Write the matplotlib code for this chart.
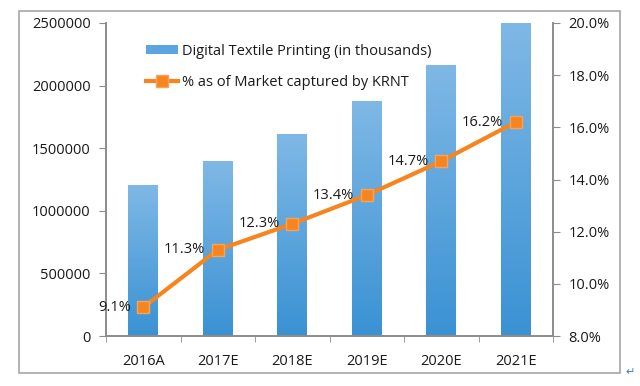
import matplotlib
matplotlib.use("Agg")
import matplotlib.pyplot as plt
import numpy as np
from matplotlib.colors import LinearSegmentedColormap
from matplotlib.lines import Line2D
from matplotlib.patches import Patch, Rectangle

plt.rcParams["font.family"] = ["Open Sans", "DejaVu Sans"]

years = ["2016A", "2017E", "2018E", "2019E", "2020E", "2021E"]
printing_thousands = [1200000, 1390000, 1610000, 1870000, 2160000, 2500000]
market_share_pct = [9.1, 11.3, 12.3, 13.4, 14.7, 16.2]

BAR_TOP = "#7fb8e6"
BAR_BOTTOM = "#3a92d3"
LINE_COLOR = "#f7851f"
SPINE_COLOR = "#8c8c8c"
TEXT_COLOR = "#1a1a1a"

fig = plt.figure(figsize=(6.4, 3.86), dpi=100)
fig.patches.append(Rectangle((19 / 640, 1 - 373 / 386), 601 / 640, 362 / 386,
                             transform=fig.transFigure, fill=False,
                             edgecolor="#a6a6a6", linewidth=1.2))
fig.text(630 / 640, 1 - 372 / 386, "\u21b5", color="#3a7fd5", fontsize=8,
         ha="center", va="center", family="DejaVu Sans")

ax = fig.add_axes([106 / 640, 1 - 336 / 386, 447 / 640, 313 / 386])
ax2 = ax.twinx()

x = np.arange(len(years))
bars = ax.bar(x, printing_thousands, width=0.4, color="none", edgecolor="none", zorder=2)

# vertical gradient inside each bar, light at top, darker at bottom
cmap = LinearSegmentedColormap.from_list("bar_grad", [BAR_BOTTOM, BAR_TOP])
grad = np.linspace(0, 1, 256).reshape(-1, 1)
for bar in bars:
    x0, y0 = bar.get_x(), bar.get_y()
    w, h = bar.get_width(), bar.get_height()
    ax.imshow(grad, extent=(x0, x0 + w, y0, y0 + h), origin="lower",
              cmap=cmap, aspect="auto", zorder=2, vmin=0, vmax=1)

ax.set_xlim(-0.5, len(years) - 0.5)
ax.set_ylim(0, 2500000)
ax.set_yticks(np.arange(0, 2500001, 500000))
ax.set_yticklabels([f"{int(v)}" for v in np.arange(0, 2500001, 500000)])
ax.set_xticks(x)
ax.set_xticklabels(years)
ax.set_xticks(np.arange(-0.5, len(years)), minor=True)
ax.tick_params(axis="x", which="major", length=0, pad=13, labelsize=10.5, colors=TEXT_COLOR)
ax.tick_params(axis="x", which="minor", length=4, color=SPINE_COLOR, direction="out")
ax.tick_params(axis="y", length=5, color=SPINE_COLOR, labelsize=10.5, labelcolor=TEXT_COLOR, pad=6)

ax2.plot(x, market_share_pct, color=LINE_COLOR, linewidth=3, marker="s",
         markersize=9, markerfacecolor=LINE_COLOR, markeredgecolor="#f9a35a",
         zorder=3)
for xi, v in zip(x, market_share_pct):
    ax2.annotate(f"{v:.1f}%", (xi, v), xytext=(-9, 0), textcoords="offset points",
                 ha="right", va="center", fontsize=10.5, color=TEXT_COLOR)
ax2.set_ylim(8, 20)
ax2.set_yticks(np.arange(8, 20.1, 2))
ax2.set_yticklabels([f"{v:.1f}%" for v in np.arange(8, 20.1, 2)])
ax2.tick_params(axis="y", length=5, color=SPINE_COLOR, labelsize=10.5, labelcolor=TEXT_COLOR, pad=6)

for a in (ax, ax2):
    a.spines["top"].set_visible(False)
    for side in ("left", "right", "bottom"):
        a.spines[side].set_color(SPINE_COLOR)
        a.spines[side].set_linewidth(1.2)

handles = [
    Patch(facecolor="#5da5df", edgecolor="none"),
    Line2D([0], [0], color=LINE_COLOR, linewidth=3, marker="s", markersize=8,
           markerfacecolor=LINE_COLOR, markeredgecolor="#f9a35a"),
]
labels = ["Digital Textile Printing (in thousands)", "% as of Market captured by KRNT"]
ax2.legend(handles, labels, loc="upper left", bbox_to_anchor=(0.06, 0.975),
           frameon=False, fontsize=10.5, handlelength=2.2, handleheight=0.6,
           handletextpad=0.3, labelspacing=1.1, labelcolor=TEXT_COLOR)

fig.savefig("out.png", dpi=100)
